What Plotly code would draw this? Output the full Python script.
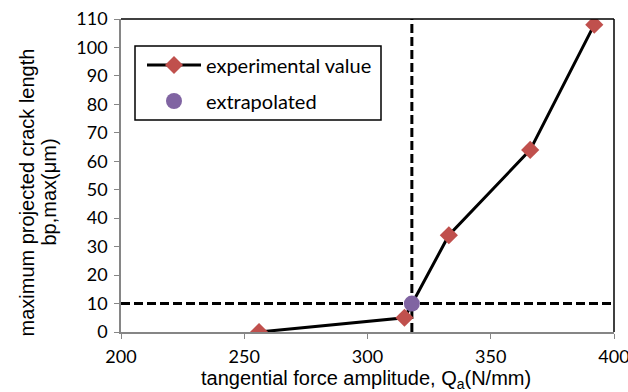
import plotly.graph_objects as go

# Data
exp_x = [256, 315, 333, 366, 392]
exp_y = [0, 5, 34, 64, 108]
extra_x = [318]
extra_y = [10]
thresh_x = 318
thresh_y = 10
x_range = [200, 400]
y_range = [0, 110]
x_ticks = [200, 250, 300, 350, 400]
y_ticks = list(range(0, 111, 10))
legend_labels = ["experimental value", "extrapolated"]

# layout geometry (pixels)
W, H = 628, 392
ML, MR, MT, MB = 121, 14, 19, 60
PW, PH = W - ML - MR, H - MT - MB


def px(x):
    return (x - ML) / PW


def py(y):
    return (H - MB - y) / PH


fig = go.Figure()

dash_style = "9px,4px"
fig.add_trace(go.Scatter(x=x_range, y=[thresh_y, thresh_y], mode="lines",
                         line=dict(color="black", width=3, dash=dash_style),
                         showlegend=False, hoverinfo="skip"))
fig.add_trace(go.Scatter(x=[thresh_x, thresh_x], y=y_range, mode="lines",
                         line=dict(color="black", width=3, dash=dash_style),
                         showlegend=False, hoverinfo="skip"))

fig.add_trace(go.Scatter(x=exp_x, y=exp_y, mode="lines+markers",
                         name=legend_labels[0], showlegend=False,
                         line=dict(color="black", width=3),
                         marker=dict(symbol="diamond", size=14, color="#C0504D")))
fig.add_trace(go.Scatter(x=extra_x, y=extra_y, mode="markers",
                         name=legend_labels[1], showlegend=False,
                         marker=dict(symbol="circle", size=16, color="#8064A2")))

tick_font = dict(family="Lato, Open Sans, sans-serif", size=18, color="black")
title_font = dict(family="Liberation Sans, Arial, sans-serif", size=20, color="black")
legend_font = dict(family="Lato, Open Sans, sans-serif", size=20, color="black")

row1, row2 = 65, 101
sym_x = 174

shapes = [
    dict(type="line", xref="paper", yref="paper", x0=0, x1=1, y0=1, y1=1,
         line=dict(color="black", width=1.5)),
    dict(type="line", xref="paper", yref="paper", x0=1, x1=1, y0=0, y1=1,
         line=dict(color="black", width=1.5)),
    # legend box
    dict(type="rect", xref="paper", yref="paper", x0=px(135), x1=px(381),
         y0=py(120), y1=py(46), line=dict(color="black", width=1.5),
         fillcolor="white", layer="above"),
    dict(type="line", xref="paper", yref="paper", x0=px(147), x1=px(201),
         y0=py(row1), y1=py(row1), line=dict(color="black", width=3), layer="above"),
    dict(type="path", xref="paper", yref="paper", xsizemode="pixel", ysizemode="pixel",
         xanchor=px(sym_x), yanchor=py(row1), path="M-9,0 L0,-9 L9,0 L0,9 Z",
         fillcolor="#C0504D", line=dict(width=0), layer="above"),
    dict(type="circle", xref="paper", yref="paper", xsizemode="pixel", ysizemode="pixel",
         xanchor=px(sym_x), yanchor=py(row2), x0=-8, x1=8, y0=-8, y1=8,
         fillcolor="#8064A2", line=dict(width=0), layer="above"),
]

annotations = [
    dict(text="tangential force amplitude, Q<sub>a</sub>(N/mm)", xref="paper", yref="paper",
         x=0.5, y=0, xanchor="center", yanchor="middle", yshift=-47, xshift=-2,
         showarrow=False, font=title_font),
    dict(text="maximum projected crack length", xref="paper", yref="paper",
         x=0, y=0.5, xanchor="center", yanchor="middle", textangle=-90,
         xshift=-95, yshift=-17, showarrow=False, font=title_font),
    dict(text="bp,max(μm)", xref="paper", yref="paper",
         x=0, y=0.5, xanchor="center", yanchor="middle", textangle=-90,
         xshift=-73, yshift=-17, showarrow=False, font=title_font),
    dict(text=legend_labels[0], xref="paper", yref="paper", x=px(204), y=py(row1),
         xanchor="left", yanchor="middle", showarrow=False, font=legend_font),
    dict(text=legend_labels[1], xref="paper", yref="paper", x=px(204), y=py(row2),
         xanchor="left", yanchor="middle", showarrow=False, font=legend_font),
]

fig.update_layout(
    width=W, height=H,
    margin=dict(l=ML, r=MR, t=MT, b=MB),
    paper_bgcolor="white", plot_bgcolor="white",
    showlegend=False,
    xaxis=dict(range=x_range, tickvals=x_ticks, showgrid=False, zeroline=False,
               showline=True, linecolor="#868686", linewidth=1.5,
               ticks="outside", ticklen=5, tickcolor="#868686",
               tickfont=tick_font, automargin=False, ticklabelstandoff=3,
               ticklabeloverflow="allow"),
    yaxis=dict(range=y_range, tickvals=y_ticks, showgrid=False, zeroline=False,
               showline=True, linecolor="#868686", linewidth=1.5,
               ticks="outside", ticklen=5, tickcolor="#868686",
               tickfont=tick_font, automargin=False, ticklabelstandoff=3,
               ticklabeloverflow="allow"),
    shapes=shapes,
    annotations=annotations,
)

fig.write_html("out.html")
